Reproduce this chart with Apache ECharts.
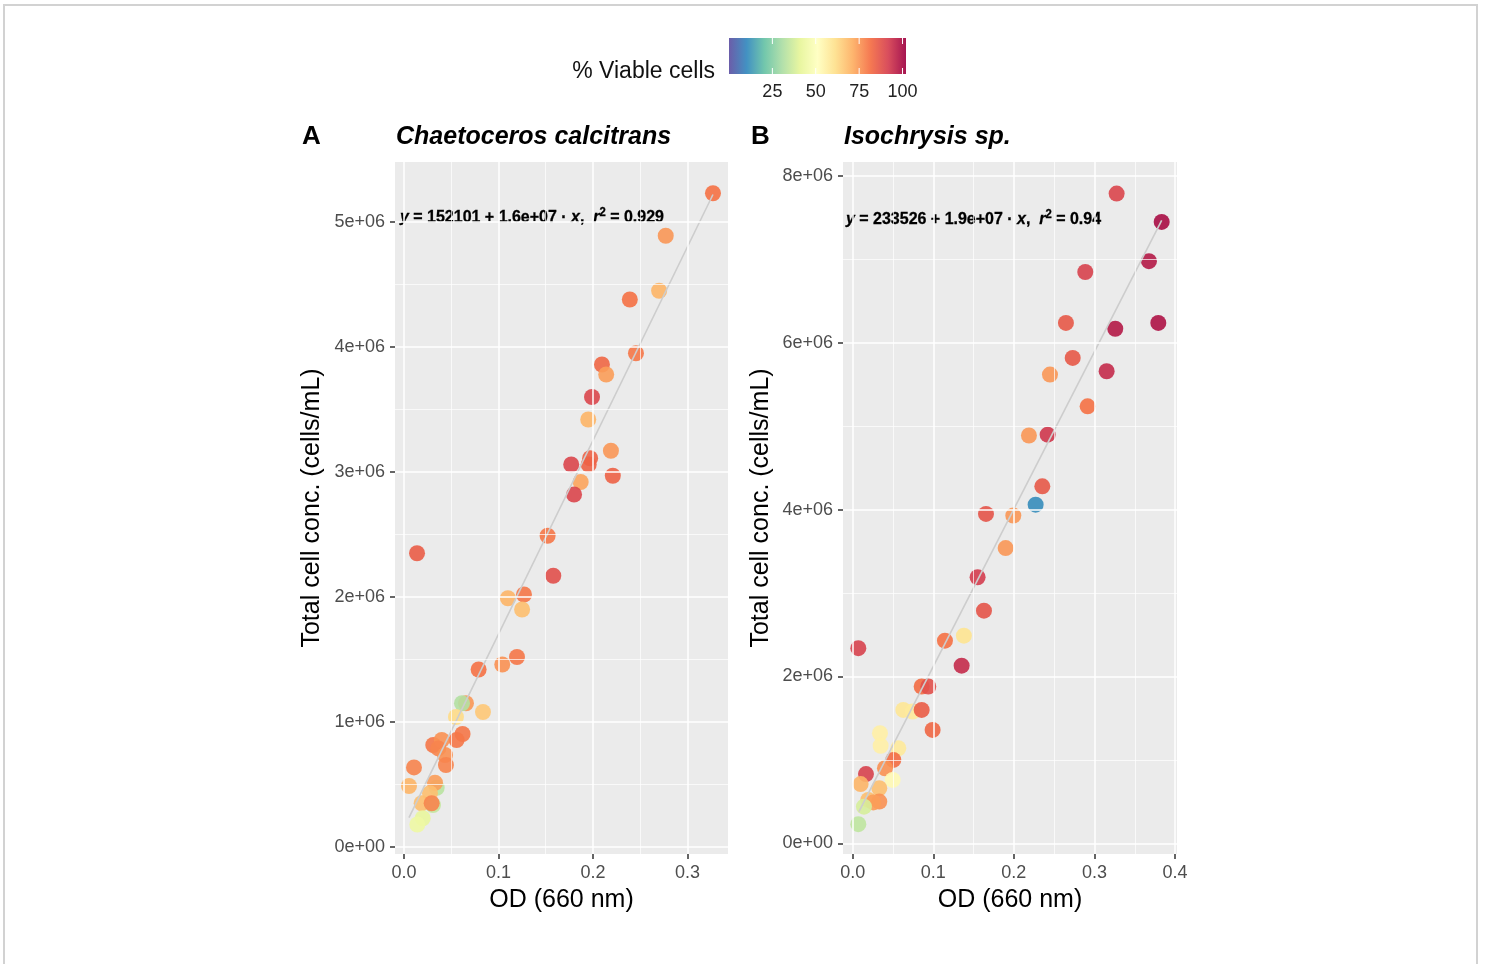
<!DOCTYPE html>
<html>
<head>
<meta charset="utf-8">
<script src="https://cdn.jsdelivr.net/npm/echarts@6/dist/echarts.min.js"></script>
<style>
  html, body { margin: 0; padding: 0; background: #ffffff; }
  #chart { width: 1485px; height: 964px; position: absolute; left: 0; top: 0; }
  #frame { position: absolute; left: 3px; top: 4px; width: 1471px; height: 1000px; border: 2px solid #d2d2d2; pointer-events: none; }
</style>
</head>
<body>
<div id="chart"></div>
<div id="frame"></div>
<script>
// ---------------- DATA ----------------
// Panel A: Chaetoceros calcitrans
const odA = [0.327, 0.277, 0.270, 0.239, 0.2455, 0.2095, 0.214, 0.199, 0.195, 0.219,
  0.177, 0.197, 0.1955, 0.221, 0.187, 0.180, 0.152, 0.158, 0.0138, 0.110,
  0.127, 0.125, 0.079, 0.104, 0.1196, 0.0656, 0.0614, 0.0836, 0.055, 0.062,
  0.0557, 0.031, 0.040, 0.0363, 0.0434, 0.0444, 0.0106, 0.0053, 0.0346, 0.0328,
  0.0275, 0.0187, 0.0307, 0.0293, 0.0198, 0.0141];
const cellsA = [5230000, 4890000, 4450000, 4380000, 3950000, 3860000, 3780000, 3600000, 3420000, 3170000,
  3060000, 3110000, 3060000, 2970000, 2920000, 2820000, 2490000, 2170000, 2350000, 1990000,
  2020000, 1900000, 1420000, 1460000, 1520000, 1150000, 1150000, 1080000, 1040000, 904000,
  856000, 816000, 856000, 789000, 736000, 656000, 637000, 488000, 474000, 514000,
  430000, 350000, 336000, 350000, 230000, 180000];
const viableA = [81, 75, 70, 81, 80, 83, 74, 90, 70, 75,
  90, 84, 84, 84, 73, 90, 80, 88, 85, 70,
  80, 68, 81, 76, 80, 75, 32, 66, 62, 80,
  80, 80, 76, 78, 76, 78, 78, 70, 33, 74,
  68, 68, 35, 78, 42, 44];
const fitLineA = [[0.0053, 235000], [0.327, 5220000]];
const equationA = "152101 + 1.6e+07";
const r2A = "0.929";

// Panel B: Isochrysis sp.
const odB = [0.3275, 0.3834, 0.3676, 0.2886, 0.2646, 0.3258, 0.3792, 0.273, 0.2448, 0.3151,
  0.2915, 0.2187, 0.2419, 0.2353, 0.227, 0.1654, 0.1993, 0.1898, 0.155, 0.1629,
  0.1145, 0.138, 0.007, 0.1352, 0.0856, 0.0938, 0.0628, 0.0744, 0.0856, 0.0992,
  0.0339, 0.0347, 0.0566, 0.0504, 0.0401, 0.0165, 0.0496, 0.0099, 0.033, 0.0194,
  0.033, 0.0256, 0.014, 0.007];
const cellsB = [7790000, 7450000, 6980000, 6850000, 6240000, 6170000, 6240000, 5820000, 5620000, 5660000,
  5240000, 4890000, 4900000, 4280000, 4060000, 3950000, 3930000, 3540000, 3190000, 2790000,
  2430000, 2490000, 2340000, 2130000, 1880000, 1880000, 1600000, 1580000, 1600000, 1360000,
  1320000, 1170000, 1140000, 1000000, 900000, 830000, 760000, 710000, 660000, 520000,
  500000, 490000, 440000, 230000];
const viableB = [90, 100, 98, 91, 86, 98, 99, 86, 75, 95,
  81, 75, 93, 86, 11, 87, 75, 75, 92, 87,
  81, 60, 91, 95, 82, 88, 59, 58, 85, 83,
  56, 56, 58, 82, 76, 91, 53, 70, 68, 68,
  76, 74, 38, 34];
const fitLineB = [[0.0078, 380000], [0.3834, 7470000]];
const equationB = "233526 + 1.9e+07";
const r2B = "0.94";

// Axis ticks
const xTicksA = [0, 0.1, 0.2, 0.3];
const xMinorA = [0.05, 0.15, 0.25];
const yTicksA = [0, 1000000, 2000000, 3000000, 4000000, 5000000];
const yMinorA = [500000, 1500000, 2500000, 3500000, 4500000];
const xTicksB = [0, 0.1, 0.2, 0.3, 0.4];
const xMinorB = [0.05, 0.15, 0.25, 0.35];
const yTicksB = [0, 2000000, 4000000, 6000000, 8000000];
const yMinorB = [1000000, 3000000, 5000000, 7000000];
const legendTicks = [25, 50, 75, 100];
const viableMin = 0, viableMax = 102;

// ---------------- STYLE ----------------
const spectral = ['#9E0142', '#D53E4F', '#F46D43', '#FDAE61', '#FEE08B', '#FFFFBF',
  '#E6F598', '#ABDDA4', '#66C2A5', '#3288BD', '#5E4FA2'];
const lowToHigh = spectral.slice().reverse();
const FONT = "'Liberation Sans', Arial, Helvetica, sans-serif";

function sciLabel(v) {
  if (v === 0) return '0e+00';
  const e = Math.floor(Math.log10(v) + 1e-9);
  const m = Math.round(v / Math.pow(10, e));
  return m + 'e+' + String(e).padStart(2, '0');
}

const tickStyle = { color: '#333333', width: 1.5 };
const hiddenLine = { show: true, onZero: false, lineStyle: { color: 'rgba(0,0,0,0)', width: 0.01 } };
function xAxisCfg(gi, min, max, ticks) {
  return {
    type: 'value', gridIndex: gi, min: min, max: max,
    axisLine: hiddenLine,
    axisTick: { show: true, inside: false, length: 5, lineStyle: tickStyle, customValues: ticks },
    axisLabel: { customValues: ticks, color: '#4D4D4D', fontSize: 18, fontFamily: FONT, margin: 10,
      formatter: v => v.toFixed(1) },
    splitLine: { show: false }
  };
}
function yAxisCfg(gi, min, max, ticks) {
  return {
    type: 'value', gridIndex: gi, min: min, max: max,
    axisLine: hiddenLine,
    axisTick: { show: true, inside: false, length: 5, lineStyle: tickStyle, customValues: ticks },
    axisLabel: { customValues: ticks, color: '#4D4D4D', fontSize: 18, fontFamily: FONT, margin: 10,
      formatter: v => sciLabel(v) },
    splitLine: { show: false }
  };
}
function gridLines(idx, xMaj, xMin, yMaj, yMin) {
  const maj = { color: '#ffffff', width: 1.5, type: 'solid' };
  const mnr = { color: '#ffffff', width: 0.7, type: 'solid' };
  return {
    type: 'scatter', xAxisIndex: idx, yAxisIndex: idx, data: [], z: 1, silent: true,
    markLine: {
      silent: true, symbol: ['none', 'none'], label: { show: false }, animation: false,
      emphasis: { disabled: true },
      data: [].concat(
        xMin.map(v => ({ xAxis: v, lineStyle: mnr })),
        yMin.map(v => ({ yAxis: v, lineStyle: mnr })),
        xMaj.map(v => ({ xAxis: v, lineStyle: maj })),
        yMaj.map(v => ({ yAxis: v, lineStyle: maj }))
      )
    }
  };
}
function pts(xs, ys, vs) { return xs.map((x, i) => [x, ys[i], vs[i]]); }

const chart = echarts.init(document.getElementById('chart'), null, { renderer: 'canvas' });

// legend geometry
const barX = 729, barW = 177, barY = 38, barH = 36;
const legX = v => barX + (v - viableMin) / (viableMax - viableMin) * barW;

const graphics = [];
graphics.push({
  type: 'rect', shape: { x: barX, y: barY, width: barW, height: barH }, silent: true,
  style: { fill: { type: 'linear', x: 0, y: 0, x2: 1, y2: 0,
    colorStops: lowToHigh.map((c, i) => ({ offset: i / (lowToHigh.length - 1), color: c })) }, opacity: 0.92 }
});
legendTicks.forEach(v => {
  graphics.push({ type: 'line', silent: true, shape: { x1: legX(v), y1: barY, x2: legX(v), y2: barY + 6 }, style: { stroke: '#ffffff', lineWidth: 1 } });
  graphics.push({ type: 'line', silent: true, shape: { x1: legX(v), y1: barY + barH - 6, x2: legX(v), y2: barY + barH }, style: { stroke: '#ffffff', lineWidth: 1 } });
  graphics.push({ type: 'text', silent: true, x: legX(v), y: 92,
    style: { text: String(v), align: 'center', verticalAlign: 'middle', fontSize: 18, fontFamily: FONT, fill: '#222222' } });
});
graphics.push({ type: 'text', silent: true, x: 715, y: 72,
  style: { text: '% Viable cells', align: 'right', verticalAlign: 'middle', fontSize: 23, fontFamily: FONT, fill: '#111111' } });

// panel letters and titles
[['A', 302, 'Chaetoceros calcitrans', 396], ['B', 751, 'Isochrysis sp.', 844]].forEach(p => {
  graphics.push({ type: 'text', silent: true, x: p[1], y: 137,
    style: { text: p[0], align: 'left', verticalAlign: 'middle', fontSize: 26, fontWeight: 'bold', fontFamily: FONT, fill: '#000' } });
  graphics.push({ type: 'text', silent: true, x: p[3], y: 137,
    style: { text: p[2], align: 'left', verticalAlign: 'middle', fontSize: 25, fontWeight: 'bold', fontStyle: 'italic', fontFamily: FONT, fill: '#000' } });
});

// axis titles
[[561.5, 312], [1010, 761]].forEach(p => {
  graphics.push({ type: 'text', silent: true, x: p[0], y: 900,
    style: { text: 'OD (660 nm)', align: 'center', verticalAlign: 'middle', fontSize: 25, fontFamily: FONT, fill: '#000' } });
  graphics.push({ type: 'text', silent: true, x: p[1], y: 508, rotation: Math.PI / 2,
    style: { text: 'Total cell conc. (cells/mL)', align: 'center', verticalAlign: 'middle', fontSize: 25, fontFamily: FONT, fill: '#000' } });
});

// regression equations
function eqText(x, y, body, r2) {
  return { type: 'text', silent: true, x: x, y: y, scaleX: 0.94,
    style: {
      text: '{i|y} = ' + body + ' · {i|x},  {i|r}{s|2} = ' + r2,
      align: 'left', verticalAlign: 'middle', fontSize: 17, fontWeight: 'bold', fontFamily: FONT, fill: '#000',
      stroke: '#000', lineWidth: 0.3,
      rich: {
        i: { fontStyle: 'italic', fontWeight: 'bold', fontSize: 17, fontFamily: FONT, fill: '#000' },
        s: { fontSize: 12, fontWeight: 'bold', fontFamily: FONT, fill: '#000', verticalAlign: 'top', padding: [0, 0, 8, 0] }
      }
    } };
}
graphics.push(eqText(400, 217, equationA, r2A));
graphics.push(eqText(846, 219, equationB, r2B));

const option = {
  animation: false,
  backgroundColor: '#ffffff',
  textStyle: { fontFamily: FONT },
  grid: [
    { left: 395, top: 162, width: 333, height: 692, show: true, backgroundColor: '#EBEBEB', borderWidth: 0 },
    { left: 843, top: 162, width: 334, height: 692, show: true, backgroundColor: '#EBEBEB', borderWidth: 0 }
  ],
  xAxis: [
    xAxisCfg(0, -0.0095, 0.3429, xTicksA),
    xAxisCfg(1, -0.012, 0.4024, xTicksB)
  ],
  yAxis: [
    yAxisCfg(0, -56000, 5480000, yTicksA),
    yAxisCfg(1, -128000, 8169000, yTicksB)
  ],
  visualMap: {
    type: 'continuous', show: false, min: viableMin, max: viableMax, dimension: 2,
    seriesIndex: [2, 3], inRange: { color: lowToHigh }
  },
  series: [
    gridLines(0, xTicksA, xMinorA, yTicksA, yMinorA),
    gridLines(1, xTicksB, xMinorB, yTicksB, yMinorB),
    { type: 'scatter', xAxisIndex: 0, yAxisIndex: 0, z: 2, symbolSize: 16,
      itemStyle: { opacity: 0.9 }, data: pts(odA, cellsA, viableA) },
    { type: 'scatter', xAxisIndex: 1, yAxisIndex: 1, z: 2, symbolSize: 16,
      itemStyle: { opacity: 0.9 }, data: pts(odB, cellsB, viableB) },
    { type: 'line', xAxisIndex: 0, yAxisIndex: 0, z: 3, symbol: 'none', silent: true,
      lineStyle: { color: '#CDCDCD', width: 1.6 }, data: fitLineA },
    { type: 'line', xAxisIndex: 1, yAxisIndex: 1, z: 3, symbol: 'none', silent: true,
      lineStyle: { color: '#CDCDCD', width: 1.6 }, data: fitLineB }
  ],
  graphic: graphics
};
chart.setOption(option);
</script>
</body>
</html>
